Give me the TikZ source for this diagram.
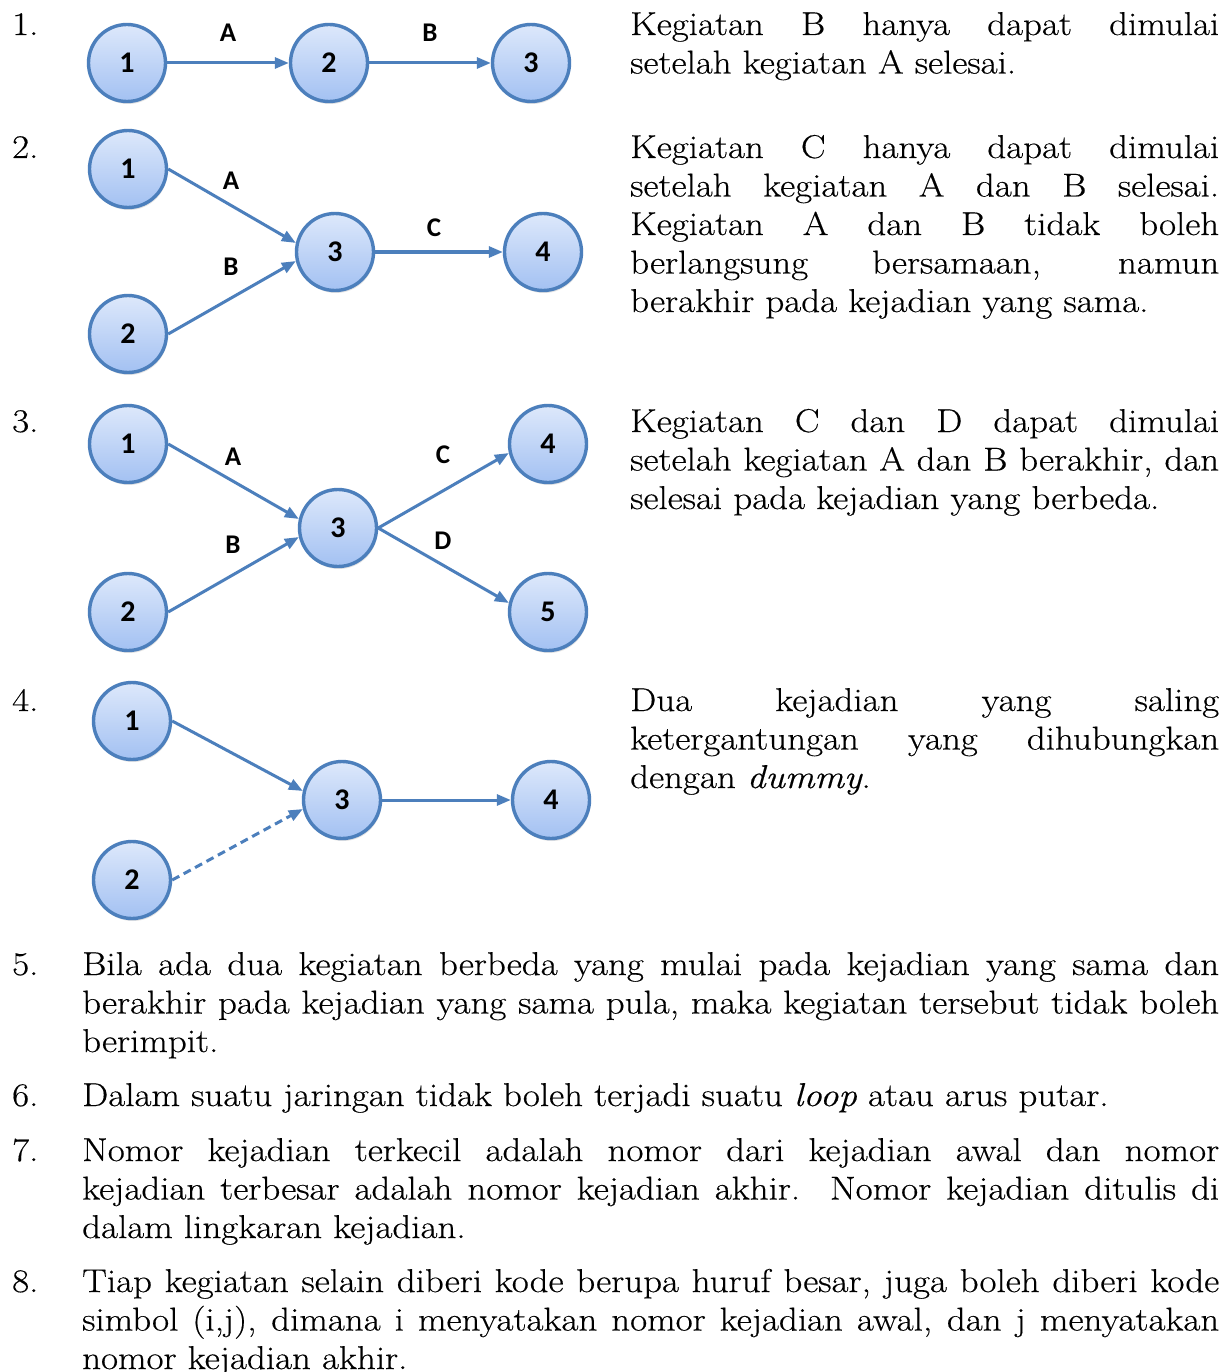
\documentclass[tikz,border=0pt]{standalone}
\usepackage{fontspec}
\setmainfont{Latin Modern Roman}[FakeStretch=1.12,FakeBold=0.4]
\newfontfamily\calibri{Carlito}
\usetikzlibrary{arrows.meta,shadings,shadows}
\definecolor{evline}{HTML}{4C7FBC}
\definecolor{evtop}{HTML}{DDE8FB}
\definecolor{evbot}{HTML}{A3C1F2}
\tikzset{
  evnode/.style={circle, minimum size=77pt, inner sep=0pt, line width=3.4pt, draw=evline,
    top color=evtop, bottom color=evbot,
    drop shadow={opacity=0.22, shadow xshift=1pt, shadow yshift=-2.5pt},
    font=\calibri\bfseries\fontsize{30}{30}\selectfont},
  edge/.style={line width=3pt, draw=evline, -{Triangle[length=14pt,width=11pt]}},
  dummyedge/.style={edge, dash pattern=on 8pt off 5pt},
  elab/.style={inner sep=0pt, font=\calibri\bfseries\fontsize{27}{27}\selectfont},
  txt/.style={inner sep=0pt, anchor=base west, font=\fontsize{33}{38.5}\selectfont},
}
\newcommand{\jline}[2]{\makebox[#1pt][s]{#2}}
\begin{document}
\begin{tikzpicture}[x=1pt,y=-1pt]
\useasboundingbox[fill=white] (0,0) rectangle (1231,1372);

% ---------- 1 ----------
\node[txt] (n1) at (12,35) {1.};
\node[evnode] (a1) at (127,63) {1};
\node[evnode] (a2) at (329,63) {2};
\node[evnode] (a3) at (531,63) {3};
\draw[edge] (a1) -- (a2);
\draw[edge] (a2) -- (a3);
\node[elab] (la) at (228,33) {A};
\node[elab] (lb) at (430,33) {B};
\node[txt] (t1a) at (630,35) {\jline{589}{Kegiatan B hanya dapat dimulai}};
\node[txt] (t1b) at (630,73.5) {setelah kegiatan A selesai.};

% ---------- 2 ----------
\node[txt] (n2) at (12,158) {2.};
\node[evnode] (b1) at (128,169) {1};
\node[evnode] (b2) at (128,334) {2};
\node[evnode] (b3) at (335,252) {3};
\node[evnode] (b4) at (543,252) {4};
\draw[edge] (b1.east) -- (b3.167);
\draw[edge] (b2.east) -- (b3.193);
\draw[edge] (b3) -- (b4);
\node[elab] (lba) at (231,181) {A};
\node[elab] (lbb) at (231,267) {B};
\node[elab] (lbc) at (434,228) {C};
\node[txt] (t2a) at (630,158) {\jline{589}{Kegiatan C hanya dapat dimulai}};
\node[txt] (t2b) at (630,196.5) {\jline{589}{setelah kegiatan A dan B selesai.}};
\node[txt] (t2c) at (630,235) {\jline{589}{Kegiatan A dan B tidak boleh}};
\node[txt] (t2d) at (630,273.5) {\jline{589}{berlangsung bersamaan, namun}};
\node[txt] (t2e) at (630,312) {berakhir pada kejadian yang sama.};

% ---------- 3 ----------
\node[txt] (n3) at (12,432) {3.};
\node[evnode] (c1) at (128,444) {1};
\node[evnode] (c2) at (128,612) {2};
\node[evnode] (c3) at (338,528) {3};
\node[evnode] (c4) at (548,444) {4};
\node[evnode] (c5) at (548,612) {5};
\draw[edge] (c1.east) -- (c3.167);
\draw[edge] (c2.east) -- (c3.193);
\draw[edge] (c3.east) -- (c4.193);
\draw[edge] (c3.east) -- (c5.167);
\node[elab] (lca) at (233,457) {A};
\node[elab] (lcb) at (233,545) {B};
\node[elab] (lcc) at (443,455) {C};
\node[elab] (lcd) at (443,541) {D};
\node[txt] (t3a) at (630,432) {\jline{589}{Kegiatan C dan D dapat dimulai}};
\node[txt] (t3b) at (630,470.5) {\jline{589}{setelah kegiatan A dan B berakhir, dan}};
\node[txt] (t3c) at (630,509) {selesai pada kejadian yang berbeda.};

% ---------- 4 ----------
\node[txt] (n4) at (12,711) {4.};
\node[evnode] (d1) at (132,721) {1};
\node[evnode] (d2) at (132,880) {2};
\node[evnode] (d3) at (342,800) {3};
\node[evnode] (d4) at (551,800) {4};
\draw[edge] (d1.east) -- (d3.167);
\draw[dummyedge] (d2.east) -- (d3.193);
\draw[edge] (d3) -- (d4);
\node[txt] (t4a) at (630,711) {\jline{589}{Dua kejadian yang saling}};
\node[txt] (t4b) at (630,749.5) {\jline{589}{ketergantungan yang dihubungkan}};
\node[txt] (t4c) at (630,788) {dengan \textit{dummy}.};

% ---------- 5 - 8 ----------
\node[txt] (n5) at (12,975) {5.};
\node[txt] (t5a) at (82,975) {\jline{1137}{Bila ada dua kegiatan berbeda yang mulai pada kejadian yang sama dan}};
\node[txt] (t5b) at (82,1013.5) {\jline{1137}{berakhir pada kejadian yang sama pula, maka kegiatan tersebut tidak boleh}};
\node[txt] (t5c) at (82,1052) {berimpit.};

\node[txt] (n6) at (12,1106) {6.};
\node[txt] (t6a) at (82,1106) {Dalam suatu jaringan tidak boleh terjadi suatu \textit{loop} atau arus putar.};

\node[txt] (n7) at (12,1161) {7.};
\node[txt] (t7a) at (82,1161) {\jline{1137}{Nomor kejadian terkecil adalah nomor dari kejadian awal dan nomor}};
\node[txt] (t7b) at (82,1199.5) {\jline{1137}{kejadian terbesar adalah nomor kejadian akhir.\ \ Nomor kejadian ditulis di}};
\node[txt] (t7c) at (82,1238) {dalam lingkaran kejadian.};

\node[txt] (n8) at (12,1292) {8.};
\node[txt] (t8a) at (82,1292) {\jline{1137}{Tiap kegiatan selain diberi kode berupa huruf besar, juga boleh diberi kode}};
\node[txt] (t8b) at (82,1330.5) {\jline{1137}{simbol (i,j), dimana i menyatakan nomor kejadian awal, dan j menyatakan}};
\node[txt] (t8c) at (82,1369) {nomor kejadian akhir.};
\end{tikzpicture}
\end{document}
